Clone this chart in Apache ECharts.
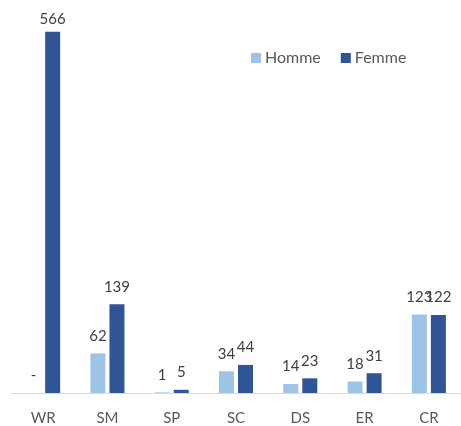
<!DOCTYPE html>
<html><head><meta charset="utf-8">
<script src="https://cdn.jsdelivr.net/npm/echarts@6/dist/echarts.min.js"></script>
<style>html,body{margin:0;padding:0;background:#fff}#c{width:461px;height:426px}</style>
</head><body><div id="c"></div>
<script>
const categories = ['WR','SM','SP','SC','DS','ER','CR'];
const homme = [0, 62, 1, 34, 14, 18, 123];
const femme = [566, 139, 5, 44, 23, 31, 122];
const FONT = 'Lato';
const YMAX = 600;
const chart = echarts.init(document.getElementById('c'));
const lbl = {
  show: true, position: 'top', distance: 10,
  color: '#404040', fontSize: 15, fontFamily: FONT,
  formatter: p => p.value === 0 ? '-' : String(p.value)
};
// labels near the top of the plot sit closer to their bar
const femmeData = femme.map(v => v > YMAX * 0.9 ? {value: v, label: {distance: 5}} : v);
chart.setOption({
  animation: false,
  textStyle: {fontFamily: FONT},
  legend: {
    top: 45, left: 246, itemWidth: 10, itemHeight: 10, itemGap: 20,
    icon: 'rect',
    textStyle: {color: '#595959', fontSize: 16, fontFamily: FONT, padding: [0,0,0,-1]},
    data: ['Homme','Femme']
  },
  grid: {left: 11, top: 10, width: 454, bottom: 33},
  xAxis: {
    type: 'category', data: categories,
    axisLine: {lineStyle: {color: '#d9d9d9', width: 1}},
    axisTick: {show: false},
    axisLabel: {color: '#595959', fontSize: 15, fontFamily: FONT, margin: 18}
  },
  yAxis: {type: 'value', min: 0, max: YMAX, show: false, splitLine: {show: false}},
  series: [
    {name: 'Homme', type: 'bar', data: homme, barWidth: 15, barGap: '27%',
     itemStyle: {color: '#9dc3e6'}, label: lbl},
    {name: 'Femme', type: 'bar', data: femmeData, barWidth: 15,
     itemStyle: {color: '#2f5597'}, label: lbl}
  ]
});
</script></body></html>
